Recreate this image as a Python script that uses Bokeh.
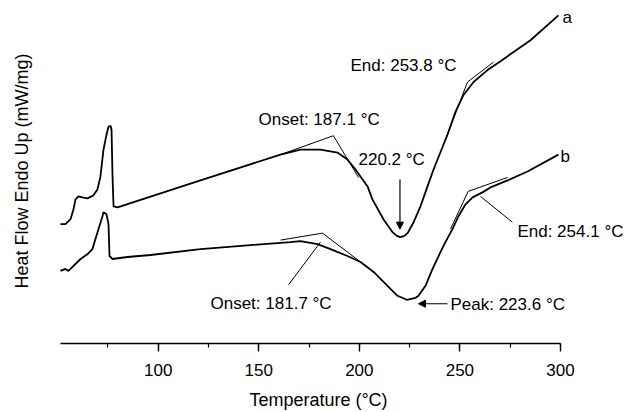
import math

from bokeh.core.properties import value
from bokeh.embed import file_html
from bokeh.models import Arrow, NormalHead, Range1d, SingleIntervalTicker
from bokeh.plotting import figure
from bokeh.resources import INLINE

FONT = "Liberation Sans"

# DSC heating traces: temperature (°C) and heat flow (mW/mg, offset per trace)
temp_a = [51.4, 53.9, 56.4, 57.9, 58.9, 60.4, 62.4, 64.9, 67.8, 69.8, 71.3, 72.8,
          74.3, 75.3, 76.3, 76.8, 77.3, 77.8, 79.8, 121.0, 160.8, 170.7, 180.7,
          189.1, 194.1, 198.1, 204.1, 206.5, 212.0, 216.5, 218.5, 220.2, 222.2,
          224.0, 227.0, 230.4, 233.9, 236.9, 243.8, 247.8, 251.8, 256.8, 263.7,
          270.2, 285.1, 299.0]
flow_a = [1.20, 1.20, 1.25, 1.35, 1.45, 1.48, 1.47, 1.46, 1.49, 1.55, 1.68, 1.95,
          2.10, 2.18, 2.19, 2.15, 1.68, 1.38, 1.37, 1.64, 1.90, 1.95, 1.95,
          1.92, 1.85, 1.75, 1.58, 1.45, 1.25, 1.12, 1.085, 1.07, 1.08,
          1.11, 1.22, 1.38, 1.58, 1.75, 2.10, 2.33, 2.50, 2.63, 2.75,
          2.84, 3.05, 3.30]

temp_b = [51.4, 53.9, 55.4, 57.9, 61.4, 64.9, 67.3, 68.8, 70.3, 72.3, 72.8, 74.3,
          75.3, 75.8, 77.3, 84.7, 96.2, 121.0, 145.9, 165.8, 170.7, 179.2, 185.7,
          194.1, 200.6, 207.1, 214.0, 219.0, 223.6, 228.0, 229.4, 232.9, 236.4,
          239.4, 242.8, 246.3, 249.3, 252.8, 256.3, 261.2, 265.2, 273.7, 283.6,
          299.0]
flow_b = [0.73, 0.75, 0.73, 0.78, 0.85, 0.90, 0.95, 1.05, 1.15, 1.28, 1.32, 1.30,
          1.20, 0.88, 0.85, 0.87, 0.89, 0.95, 0.99, 1.02, 1.03, 1.00, 0.95,
          0.88, 0.82, 0.72, 0.58, 0.48, 0.44, 0.46, 0.48, 0.58, 0.75,
          0.88, 1.02, 1.15, 1.28, 1.40, 1.47, 1.52, 1.57, 1.64, 1.73,
          1.90]

# characteristic temperatures (°C)
onset_a, peak_a, end_a = 187.1, 220.2, 253.8
onset_b, peak_b, end_b = 181.7, 223.6, 254.1

# heat flow at the tangent intersections
onset_a_flow, end_a_flow = 2.09, 2.63
onset_b_flow, end_b_flow = 1.11, 1.53

# baseline / tangent construction lines
constr_x = [[160.8, onset_a, 199.6],
            [242.8, end_a, 266.7],
            [160.8, onset_b, 200.6],
            [245.3, end_b, 273.7]]
constr_y = [[1.90, onset_a_flow, 1.67],
            [2.05, end_a_flow, 2.83],
            [1.04, onset_b_flow, 0.82],
            [1.15, end_b_flow, 1.67]]

# leader lines from labels to the curve
leader_x = [[164.8, 180.7], [260.2, 276.1]]
leader_y = [[0.59, 1.02], [1.48, 1.22]]

labels = [f"Onset: {onset_a}  °C", f"{peak_a}  °C", f"End: {end_a}  °C",
          f"Onset: {onset_b}  °C", f"Peak: {peak_b}  °C", f"End: {end_b}  °C",
          "a", "b"]
label_x = [149.9, 199.6, 195.6, 126.0, 245.3, 278.6, 301.0, 300.0]
label_y = [2.25, 1.85, 2.80, 0.40, 0.39, 1.13, 3.28, 1.88]

p = figure(width=636, height=412, x_range=Range1d(21.6, 337.8),
           y_range=Range1d(0, 3.45), output_backend="svg",
           toolbar_location=None, y_axis_location=None,
           min_border_left=0, min_border_right=0, min_border_top=0,
           min_border_bottom=67)
p.outline_line_color = None
p.xgrid.visible = False
p.ygrid.visible = False

ax = p.xaxis[0]
ax.ticker = SingleIntervalTicker(interval=50, num_minor_ticks=2)
ax.bounds = (51.4, 300)
ax.axis_line_width = 1.6
ax.major_tick_line_width = 1.4
ax.minor_tick_line_width = 1.2
ax.major_tick_in = 0
ax.major_tick_out = 8
ax.minor_tick_in = 0
ax.minor_tick_out = 4
ax.major_label_standoff = 12
ax.major_label_text_font = FONT
ax.major_label_text_font_size = "17px"
ax.major_label_text_color = "black"
ax.axis_label = "Temperature (°C)"
ax.axis_label_text_font = FONT
ax.axis_label_text_font_size = "18px"
ax.axis_label_text_font_style = "normal"
ax.axis_label_text_color = "black"
ax.axis_label_standoff = 11

p.line(temp_a, flow_a, line_color="black", line_width=1.8)
p.line(temp_b, flow_b, line_color="black", line_width=1.8)
p.multi_line(constr_x, constr_y, line_color="black", line_width=1.0)
p.multi_line(leader_x, leader_y, line_color="black", line_width=1.0)

head = dict(size=7, fill_color="black", line_color="black")
p.add_layout(Arrow(end=NormalHead(**head), x_start=peak_a, y_start=1.65,
                   x_end=peak_a, y_end=1.15, line_width=1.2))
p.add_layout(Arrow(end=NormalHead(**head), x_start=243.8, y_start=0.40,
                   x_end=229.4, y_end=0.40, line_width=1.2))

p.text(label_x, label_y, text=labels, text_font=value(FONT),
       text_font_size="17px", text_color="black", text_baseline="middle",
       text_align="left")

p.text([32.5], [1.735], text=["Heat Flow Endo Up (mW/mg)"], angle=math.pi / 2,
       text_font=value(FONT), text_font_size="18px", text_color="black",
       text_baseline="middle", text_align="center")

open("out.html", "w").write(file_html(p, INLINE))
